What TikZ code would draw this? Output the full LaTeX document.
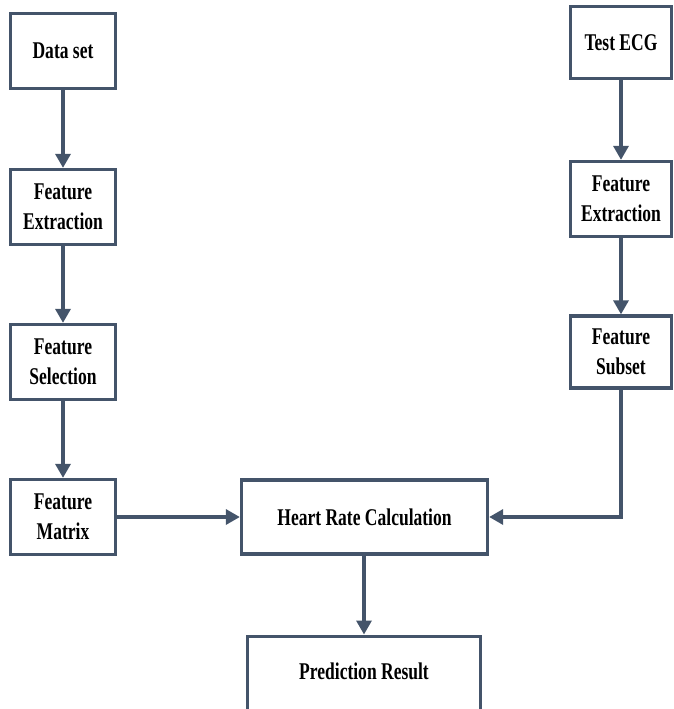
\documentclass[tikz,border=0pt]{standalone}
\usepackage{fontspec}
\setmainfont{Liberation Serif}[FakeStretch=0.73]
\usetikzlibrary{arrows.meta}
\definecolor{boxc}{HTML}{44546A}
\begin{document}
\begin{tikzpicture}[x=1pt,y=-1pt,
  box/.style={draw=boxc,line width=3.3pt,rectangle,align=center,inner sep=0pt,
    font=\fontsize{24}{30}\selectfont\bfseries,text=black},
  sbox/.style={box,minimum width=105pt,minimum height=75pt},
  rbox/.style={box,minimum width=101pt,minimum height=74pt},
  conn/.style={draw=boxc,line width=3.3pt,-{Triangle[width=15pt,length=14pt]}}]
\useasboundingbox (0,0) rectangle (673,709);
\node[sbox] (ds) at (63,51) {Data set};
\node[sbox] (fe) at (63,207) {Feature\\Extraction};
\node[sbox] (fs) at (63,362) {Feature\\Selection};
\node[sbox] (fm) at (63,517) {Feature\\Matrix};
\node[rbox,minimum height=72pt] (te) at (621,42.5) {Test ECG};
\node[rbox,minimum height=75pt] (rfe) at (621,199) {Feature\\Extraction};
\node[rbox,minimum height=72pt] (sub) at (621,352) {Feature\\Subset};
\node[box,minimum width=246pt,minimum height=74pt] (hr) at (364.5,517) {Heart Rate Calculation};
\node[box,minimum width=233pt,minimum height=90pt,anchor=north] (pr) at (364,634.5) {};
\node[font=\fontsize{24}{30}\selectfont\bfseries] (prt) at (364,671) {Prediction Result};
\draw[conn] (ds) -- (fe);
\draw[conn] (fe) -- (fs);
\draw[conn] (fs) -- (fm);
\draw[conn] (te) -- (rfe);
\draw[conn] (rfe) -- (sub);
\draw[conn] (fm.east) -- (fm.east -| hr.west);
\draw[conn] (sub.south) |- (hr.east);
\draw[conn] (hr.south -| pr.north) -- (pr.north);
\end{tikzpicture}
\end{document}
